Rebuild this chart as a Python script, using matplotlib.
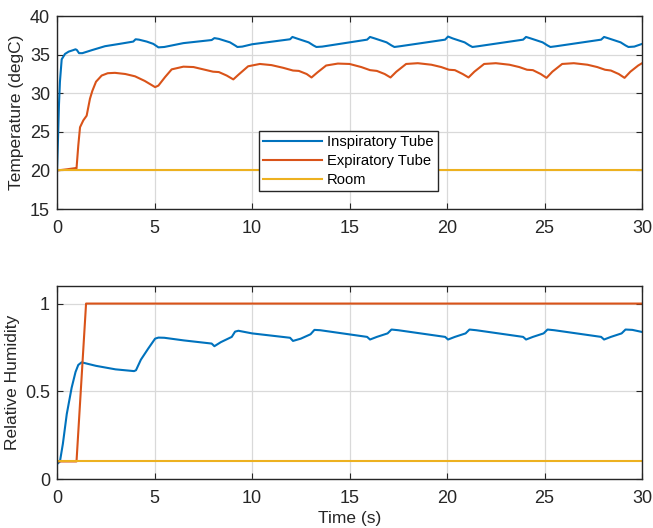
import matplotlib
matplotlib.use("Agg")
import matplotlib.pyplot as plt

plt.rcParams['font.family'] = ['Liberation Sans', 'DejaVu Sans']

# ---- data ----
insp_T_t = [0, 0.05, 0.1, 0.15, 0.24, 0.41, 0.6, 0.84, 0.95, 1.02, 1.13, 1.3, 1.8, 2.46, 3.2, 3.91,
            4.03, 4.2, 4.6, 4.94, 5.2, 5.5, 6.48, 7.93,
            8.07, 8.3, 8.87, 9.13, 9.25, 9.5, 10.0, 11.95,
            12.07, 12.3, 12.9, 13.15, 13.3, 13.6, 15.9,
            16.05, 16.3, 16.9, 17.15, 17.3, 17.6, 19.9,
            20.05, 20.3, 20.9, 21.15, 21.3, 21.6, 23.9,
            24.05, 24.3, 24.9, 25.15, 25.3, 25.6, 27.9,
            28.05, 28.3, 28.9, 29.15, 29.3, 29.6, 30.0]
insp_T = [20.0, 24.0, 28.5, 31.5, 34.4, 35.1, 35.4, 35.6, 35.7, 35.6, 35.2, 35.2, 35.6, 36.1, 36.4, 36.7,
          37.0, 36.95, 36.7, 36.4, 35.95, 36.0, 36.5, 36.9,
          37.15, 37.05, 36.6, 36.2, 36.0, 36.05, 36.35, 37.0,
          37.3, 37.1, 36.6, 36.2, 36.0, 36.05, 36.95,
          37.3, 37.1, 36.6, 36.2, 36.0, 36.1, 36.95,
          37.35, 37.1, 36.6, 36.2, 36.0, 36.1, 36.95,
          37.3, 37.1, 36.6, 36.2, 36.0, 36.1, 36.95,
          37.3, 37.1, 36.6, 36.2, 36.0, 36.05, 36.4]

exp_T_t = [0, 0.5, 0.92, 1.0, 1.09, 1.18, 1.35, 1.52, 1.69, 1.81, 2.0, 2.29, 2.6, 2.97, 3.5, 4.0, 4.5,
           5.03, 5.2, 5.54, 5.88, 6.48, 7.0, 7.5, 8.0, 8.3, 8.7,
           9.04, 9.3, 9.8, 10.4, 11.0, 11.6, 12.1, 12.4, 12.8,
           13.05, 13.35, 13.8, 14.4, 15.0, 15.6, 16.05, 16.4, 16.8,
           17.1, 17.4, 17.9, 18.5, 19.2, 19.7, 20.1, 20.4, 20.8,
           21.1, 21.4, 21.9, 22.5, 23.2, 23.7, 24.1, 24.4, 24.8,
           25.1, 25.4, 25.9, 26.5, 27.2, 27.7, 28.1, 28.4, 28.8,
           29.1, 29.4, 29.8, 30.0]
exp_T = [20.0, 20.15, 20.3, 20.25, 23.2, 25.6, 26.5, 27.1, 29.3, 30.3, 31.5, 32.3, 32.6, 32.65, 32.5, 32.2, 31.6,
         30.8, 31.0, 32.1, 33.1, 33.45, 33.4, 33.1, 32.8, 32.75, 32.3,
         31.8, 32.4, 33.5, 33.8, 33.65, 33.3, 32.95, 32.9, 32.5,
         32.05, 32.7, 33.6, 33.85, 33.8, 33.4, 33.0, 32.9, 32.5,
         32.05, 32.8, 33.8, 33.9, 33.7, 33.4, 33.05, 33.0, 32.5,
         32.05, 32.8, 33.8, 33.9, 33.7, 33.4, 33.05, 33.0, 32.5,
         32.0, 32.8, 33.8, 33.9, 33.7, 33.4, 33.05, 32.95, 32.5,
         32.0, 32.8, 33.6, 33.9]

room_T_t = [0, 30]
room_T = [20.0, 20.0]

insp_RH_t = [0, 0.15, 0.3, 0.5, 0.75, 0.95, 1.09, 1.26, 2.0, 3.0, 3.95, 4.05, 4.3, 4.68, 5.03, 5.2, 5.5, 6.5,
             7.93, 8.07, 8.4, 8.96, 9.13, 9.3, 10.0, 11.95,
             12.1, 12.5, 13.0, 13.2, 13.5, 15.9,
             16.05, 16.4, 16.95, 17.15, 17.5, 19.9,
             20.05, 20.4, 20.95, 21.15, 21.5, 23.9,
             24.05, 24.4, 24.95, 25.15, 25.5, 27.9,
             28.05, 28.4, 28.95, 29.15, 29.5, 30.0]
insp_RH = [0.085, 0.10, 0.2, 0.37, 0.52, 0.61, 0.65, 0.665, 0.645, 0.625, 0.615, 0.62, 0.68, 0.744, 0.80, 0.806, 0.805, 0.79,
           0.772, 0.757, 0.78, 0.81, 0.84, 0.845, 0.83, 0.805,
           0.787, 0.80, 0.825, 0.85, 0.848, 0.81,
           0.795, 0.81, 0.83, 0.852, 0.848, 0.81,
           0.795, 0.81, 0.83, 0.852, 0.848, 0.81,
           0.795, 0.81, 0.83, 0.852, 0.848, 0.81,
           0.795, 0.81, 0.83, 0.852, 0.85, 0.838]

exp_RH_t = [0, 1.0, 1.49, 30]
exp_RH = [0.1, 0.1, 1.0, 1.0]

room_RH_t = [0, 30]
room_RH = [0.1, 0.1]

labels = ['Inspiratory Tube', 'Expiratory Tube', 'Room']
colors = ['#0072BD', '#D95319', '#EDB120']

x_ticks = [0, 5, 10, 15, 20, 25, 30]
T_ticks = [15, 20, 25, 30, 35, 40]
RH_ticks = [0, 0.5, 1]
RH_ticklabels = ['0', '0.5', '1']

# ---- figure ----
fig = plt.figure(figsize=(6.53, 5.28), dpi=100)
ax1 = fig.add_axes([0.0873, 0.604, 0.896, 0.3655])
ax2 = fig.add_axes([0.0873, 0.0928, 0.896, 0.3655])

lw = 1.5
for ax in (ax1, ax2):
    ax.set_xlim(0, 30)
    ax.set_xticks(x_ticks)
    ax.grid(True, color='#d9d9d9', linewidth=0.9)
    ax.set_axisbelow(True)
    ax.tick_params(direction='in', top=True, right=True, labelsize=13,
                   length=4, width=0.8, colors='#262626')
    ax.tick_params(axis='x', pad=8)
    ax.tick_params(axis='y', pad=5)
    for s in ax.spines.values():
        s.set_color('#262626')
        s.set_linewidth(1.0)

ax1.plot(insp_T_t, insp_T, color=colors[0], lw=lw, label=labels[0])
ax1.plot(exp_T_t, exp_T, color=colors[1], lw=lw, label=labels[1])
ax1.plot(room_T_t, room_T, color=colors[2], lw=lw, label=labels[2])
ax1.set_ylim(15, 40)
ax1.set_yticks(T_ticks)
ax1.set_ylabel('Temperature (degC)', fontsize=12.5, color='#262626', labelpad=4)

leg = ax1.legend(loc='center', bbox_to_anchor=(0.498, 0.249), fontsize=10.6,
                 frameon=True, fancybox=False, framealpha=1, edgecolor='#262626',
                 handlelength=4.0, handletextpad=0.3, borderpad=0.3, labelspacing=0.32,
                 borderaxespad=0)
leg.get_frame().set_linewidth(1.0)

ax2.plot(insp_RH_t, insp_RH, color=colors[0], lw=lw)
ax2.plot(exp_RH_t, exp_RH, color=colors[1], lw=lw)
ax2.plot(room_RH_t, room_RH, color=colors[2], lw=lw)
ax2.set_ylim(0, 1.1)
ax2.set_yticks(RH_ticks)
ax2.set_yticklabels(RH_ticklabels)
ax2.set_ylabel('Relative Humidity', fontsize=12.5, color='#262626', labelpad=4)
ax2.set_xlabel('Time (s)', fontsize=12.5, color='#262626', labelpad=3)

fig.savefig('out.png', dpi=100)
